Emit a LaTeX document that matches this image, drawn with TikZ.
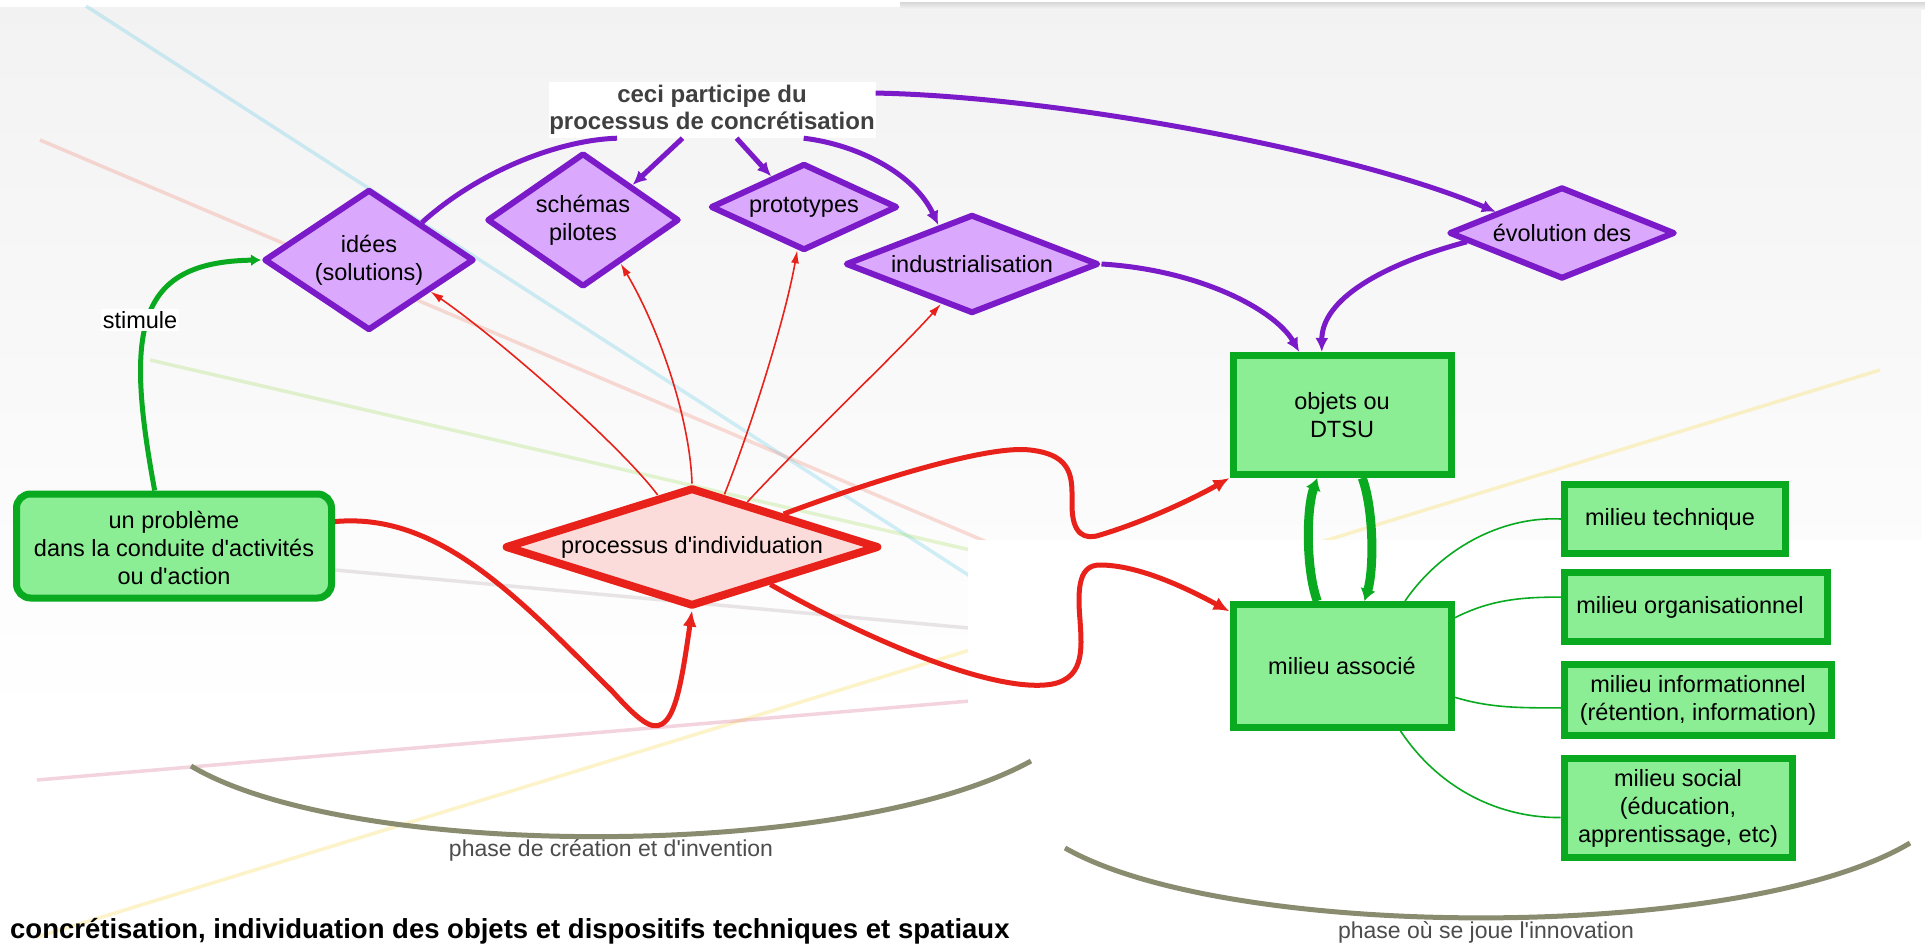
\documentclass[tikz,border=0pt]{standalone}
\usepackage{fontspec}
\setmainfont{Liberation Sans}
\usetikzlibrary{shapes.geometric,arrows.meta,calc}
\newcommand{\aq}{\textquotesingle}
\definecolor{pur}{RGB}{122,26,200}
\definecolor{purfill}{RGB}{218,168,252}
\definecolor{grn}{RGB}{10,170,32}
\definecolor{grnfill}{RGB}{140,238,148}
\definecolor{redone}{RGB}{232,34,26}
\definecolor{pinkfill}{RGB}{252,220,218}
\definecolor{arcol}{RGB}{138,140,112}
\definecolor{dcyan}{RGB}{90,200,230}
\definecolor{dsalmon}{RGB}{240,130,110}
\definecolor{dgreen}{RGB}{160,220,90}
\definecolor{dgray}{RGB}{180,165,170}
\definecolor{dyellow}{RGB}{250,215,60}
\definecolor{dpink}{RGB}{215,100,140}
\begin{document}
\begin{tikzpicture}[x=1pt,y=-1pt,
  txt/.style={font=\fontsize{23.5}{28}\selectfont, align=center, inner sep=0pt, text=black},
  dia/.style={diamond, draw=pur, fill=purfill, line width=6pt, line join=round, inner sep=0pt},
  gbox/.style={rectangle, draw=grn, fill=grnfill, line width=7pt, inner sep=0pt},
  pline/.style={draw=pur, line width=5pt, -{Latex[length=14pt,width=13pt]}},
  rthin/.style={draw=redone, line width=1.6pt, -{Latex[length=13pt,width=8pt]}},
  rthick/.style={draw=redone, line width=5pt, -{Latex[length=16pt,width=14pt]}},
  gthin/.style={draw=grn, line width=1.6pt},
  gthick/.style={draw=grn, line width=9pt, -{Latex[length=12pt,width=16pt]}},
  deco/.style={line width=3.5pt, opacity=0.28},
  arcline/.style={draw=arcol, line width=5pt},
]
\useasboundingbox (0,0) rectangle (1925,949);
% background
\fill[white] (0,0) rectangle (1925,949);
\shade[top color=black!5, bottom color=white] (0,8) rectangle (1921,720);
\shade[top color=black!14, bottom color=black!3] (900,3) rectangle (1925,10);
% decorative lines
\draw[deco, dcyan] (86,6) -- (1100,660);
\draw[deco, dsalmon] (40,140) -- (1100,590);
\draw[deco, dgreen] (150,360) -- (1100,580);
\draw[deco, dgray] (335,570) -- (1100,640);
\draw[deco, dyellow] (37,937) -- (1880,370);
\draw[deco, dpink] (37,780) -- (1100,690);
\fill[white] (968,540) rectangle (1925,949);

% nodes
\node[fill=white, minimum width=327pt, minimum height=56pt, inner sep=0pt] (ceci) at (712,110) {};
\node[font=\bfseries\fontsize{24}{26.5}\selectfont, text=black!75, align=center, inner sep=0pt] (cecit) at (ceci) {ceci participe du\\processus de concrétisation};

\node[dia, minimum width=210pt, minimum height=141pt] (idees) at (369,260) {};
\node[txt] (ideest) at (idees) {idées\\(solutions)};
\node[dia, minimum width=192pt, minimum height=134pt] (schemas) at (583,220) {};
\node[txt] (schemast) at (schemas) {schémas\\pilotes};
\node[dia, minimum width=187pt, minimum height=87pt] (proto) at (804,207) {};
\node[txt] (protot) at (proto) {prototypes};
\node[dia, minimum width=253pt, minimum height=99pt] (indus) at (972,264) {};
\node[txt] (indust) at (indus) {industrialisation};
\node[dia, minimum width=226pt, minimum height=92pt] (evol) at (1562,233) {};
\node[txt] (evolt) at (evol) {évolution des};

\node[gbox, rounded corners=14pt, minimum width=315pt, minimum height=104pt] (prob) at (174,546) {};
\node[txt] (probt) at (174,548) {un problème\\dans la conduite d\aq activités\\ou d\aq action};

\node[dia, draw=redone, fill=pinkfill, line width=8pt, minimum width=374pt, minimum height=119pt] (proc) at (692,547) {};
\node[txt] (proct) at (proc) {processus d\aq individuation};

\node[gbox, minimum width=218pt, minimum height=119pt] (objets) at (1342,415) {};
\node[txt] (objetst) at (objets) {objets ou\\DTSU};
\node[gbox, minimum width=218pt, minimum height=123pt] (milieu) at (1342,666) {};
\node[txt] (milieut) at (milieu) {milieu associé};

\node[gbox, minimum width=221pt, minimum height=69pt] (techn) at (1675,519) {};
\node[txt] (technt) at (1670,519) {milieu technique};
\node[gbox, minimum width=263pt, minimum height=69pt] (orga) at (1696,607) {};
\node[txt] (orgat) at (1690,607) {milieu organisationnel};
\node[gbox, minimum width=267pt, minimum height=71pt] (info) at (1698,700) {};
\node[txt] (infot) at (info) {milieu informationnel\\(rétention, information)};
\node[gbox, minimum width=228pt, minimum height=99pt] (social) at (1678,808) {};
\node[txt] (socialt) at (social) {milieu social\\(éducation,\\apprentissage, etc)};

% phases
\draw[arcline] (191,766) .. controls (350,861) and (850,861) .. (1031,761);
\node[font=\fontsize{23}{27}\selectfont, text=black!70, inner sep=0pt] (ph1) at (611,850) {phase de création et d\aq invention};
\draw[arcline] (1065,848) .. controls (1230,942) and (1745,942) .. (1910,843);
\node[font=\fontsize{23}{27}\selectfont, text=black!70, inner sep=0pt] (ph2) at (1486,932) {phase où se joue l\aq innovation};
\node[anchor=west, font=\bfseries\fontsize{27.5}{30}\selectfont, inner sep=0pt] (title) at (10,931) {concrétisation, individuation des objets et dispositifs techniques et spatiaux};

% stimule
\draw[draw=grn, line width=5pt, -{Latex[length=10pt,width=12pt]}] ($(prob.north west)!0.44!(prob.north east)$) .. controls (125,330) and (135,262) .. (idees.west);
\node[txt, fill=white, inner sep=2pt] (stim) at (140,320) {stimule};

% purple connectors
\draw[draw=pur, line width=5pt] ($(idees.north)!0.49!(idees.east)$) .. controls (480,170) and (560,140) .. ($(ceci.south west)!0.21!(ceci.south east)$);
\draw[pline] ($(ceci.south west)!0.41!(ceci.south east)$) -- ($(schemas.north)!0.5!(schemas.east)$);
\draw[pline] ($(ceci.south west)!0.575!(ceci.south east)$) -- ($(proto.north)!0.34!(proto.west)$);
\draw[pline] ($(ceci.south west)!0.78!(ceci.south east)$) .. controls (860,145) and (915,175) .. ($(indus.north)!0.26!(indus.west)$);
\draw[pline] ($(ceci.north east)!0.2!(ceci.south east)$) .. controls (1050,96) and (1350,150) .. ($(evol.north)!0.57!(evol.west)$);
\draw[pline] (indus.east) .. controls (1200,270) and (1275,310) .. ($(objets.north west)!0.31!(objets.north east)$);
\draw[pline] ($(evol.west)!0.18!(evol.south)$) .. controls (1380,265) and (1322,300) .. ($(objets.north west)!0.41!(objets.north east)$);

% red thin
\draw[rthin] ($(proc.north)!0.18!(proc.west)$) .. controls (620,445) and (500,340) .. ($(idees.east)!0.43!(idees.south)$);
\draw[rthin] (proc.north) .. controls (690,420) and (660,330) .. ($(schemas.south)!0.38!(schemas.east)$);
\draw[rthin] ($(proc.north)!0.17!(proc.east)$) .. controls (750,430) and (785,320) .. ($(proto.south)!0.07!(proto.west)$);
\draw[rthin] ($(proc.north)!0.29!(proc.east)$) .. controls (800,445) and (900,350) .. ($(indus.south)!0.24!(indus.west)$);

% red thick
\draw[rthick] ($(prob.north east)!0.28!(prob.south east)$) .. controls (440,512) and (520,600) .. (612,691) .. controls (640,722) and (652,730) .. (662,724) .. controls (676,716) and (682,680) .. (proc.south);
\draw[rthick] ($(proc.north)!0.48!(proc.east)$) .. controls (880,478) and (990,445) .. (1030,450) .. controls (1075,455) and (1072,480) .. (1072,505) .. controls (1072,535) and (1085,540) .. (1100,535) .. controls (1150,520) and (1200,495) .. (objets.south west);
\draw[rthick] ($(proc.south)!0.41!(proc.east)$) .. controls (850,630) and (980,690) .. (1045,685) .. controls (1085,682) and (1082,650) .. (1080,620) .. controls (1077,585) and (1080,565) .. (1100,565) .. controls (1140,565) and (1190,590) .. ($(milieu.north west)!0.08!(milieu.south west)$);

% green double
\draw[gthick] ($(milieu.north west)!0.39!(milieu.north east)$) .. controls (1306,570) and (1306,510) .. ($(objets.south west)!0.39!(objets.south east)$);
\draw[gthick] ($(objets.south west)!0.59!(objets.south east)$) .. controls (1374,510) and (1374,570) .. ($(milieu.north west)!0.6!(milieu.north east)$);

% green thin
\draw[gthin] ($(milieu.north west)!0.78!(milieu.north east)$) .. controls (1440,550) and (1500,516) .. (techn.west);
\draw[gthin] ($(milieu.north east)!0.13!(milieu.south east)$) .. controls (1490,600) and (1520,597) .. ($(orga.north west)!0.37!(orga.south west)$);
\draw[gthin] ($(milieu.north east)!0.74!(milieu.south east)$) .. controls (1490,708) and (1520,708) .. ($(info.north west)!0.6!(info.south west)$);
\draw[gthin] ($(milieu.south west)!0.76!(milieu.south east)$) .. controls (1440,790) and (1500,818) .. ($(social.north west)!0.59!(social.south west)$);
\end{tikzpicture}
\end{document}
